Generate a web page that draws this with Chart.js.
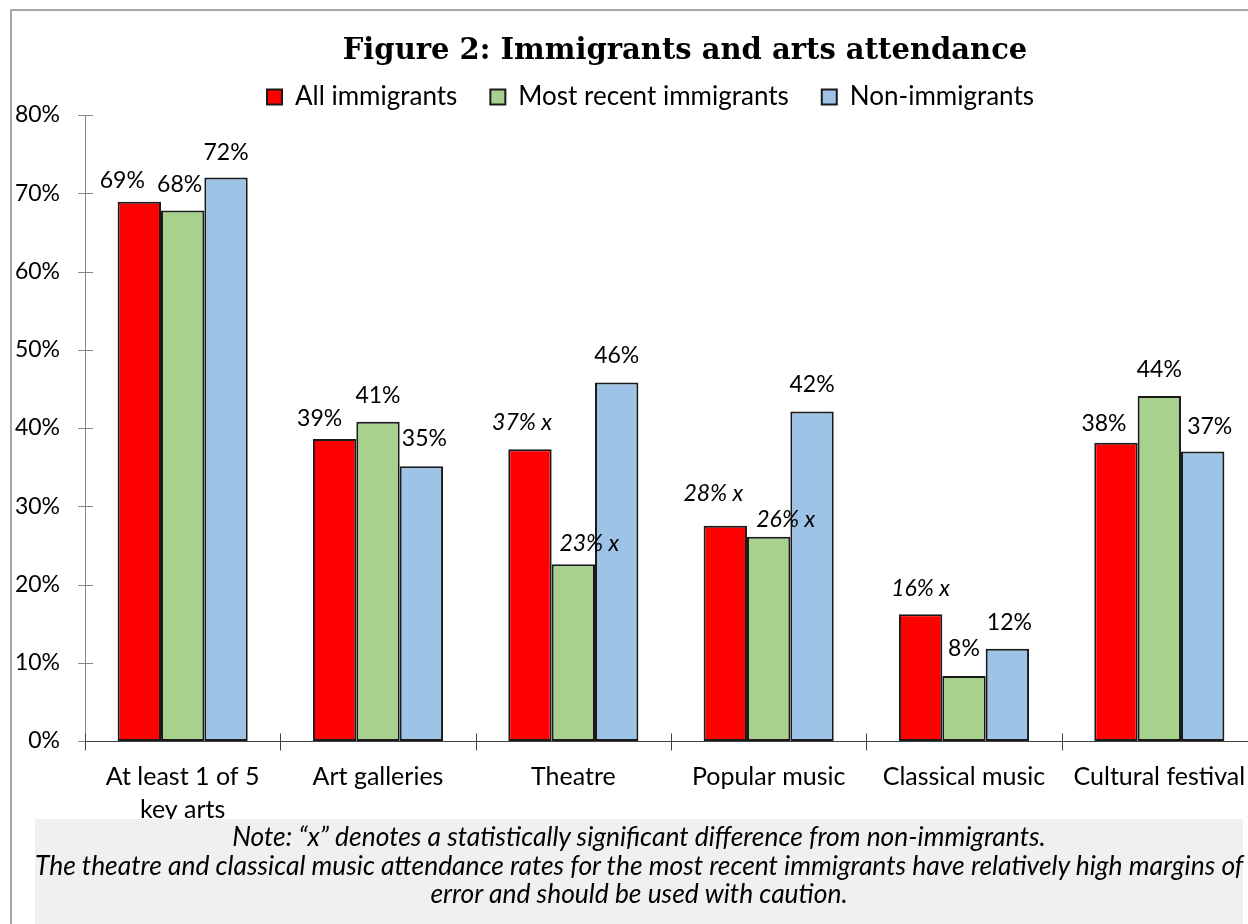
<!DOCTYPE html>
<html>
<head>
<meta charset="utf-8">
<script src="https://cdn.jsdelivr.net/npm/chart.js@4.4.1/dist/chart.umd.min.js"></script>
<style>
  body { margin: 0; overflow: hidden; background: #fff; width: 1248px; height: 924px; position: relative; }
  #frame { position: absolute; left: 10px; top: 9px; width: 1300px; height: 1000px;
           border-left: 2px solid #a6a6a6; border-top: 2px solid #a6a6a6; }
  #chart { position: absolute; left: 0; top: 0; }
  #title { position: absolute; left: 285px; top: 32px; width: 800px; text-align: center; white-space: nowrap;
           font: bold 29px "DejaVu Serif", serif; color: #000; }
  #note { position: absolute; left: 35px; top: 819px; width: 1208px; height: 110px; background: #f0f0f0;
          font: italic 26.4px Lato, sans-serif; color: #000; text-align: center; line-height: 28.5px;
          padding-top: 3px; white-space: nowrap; }
</style>
</head>
<body>
<div id="frame"></div>
<canvas id="chart" width="1301" height="924"></canvas>
<div id="title">Figure 2: Immigrants and arts attendance</div>
<div id="note">Note: “x” denotes a statistically significant difference from non-immigrants.<br>The theatre and classical music attendance rates for the most recent immigrants have relatively high margins of<br>error and should be used with caution.</div>
<script>
const categories = [
  ['At least 1 of 5', 'key arts'],
  'Art galleries',
  'Theatre',
  'Popular music',
  'Classical music',
  'Cultural festival',
];
const allImmigrants = [68.9, 38.6, 37.3, 27.5, 16.2, 38.1];
const recentImmigrants = [67.8, 40.8, 22.6, 26.1, 8.3, 44.1];
const nonImmigrants = [72.0, 35.1, 45.8, 42.1, 11.8, 37.0];
// "x" = significantly different from non-immigrants
const sigAll = [false, false, true, true, true, false];
const sigRecent = [false, false, true, true, false, false];
const sigNon = [false, false, false, false, false, false];
const yTicks = [0, 10, 20, 30, 40, 50, 60, 70, 80];

// label nudges (px) like the hand-placed labels in the original
const labelNudge = [
  [[-17, -21], [-15, -20], [-8, -27], [-12, -32], [0, -26], [-12, -19]],
  [[-3, -26], [0, -26], [16, -21], [17, -17], [0, -27], [0, -26]],
  [[0, -25], [3, -28], [0, -27], [0, -27], [2, -26], [7, -25]],
];
const sigFlags = [sigAll, sigRecent, sigNon];

const font = 'Lato, sans-serif';

/* 막대 위 값 표시 */
const valueLabels = {
  id: 'valueLabels',
  afterDatasetsDraw(chart) {
    const ctx = chart.ctx;
    ctx.save();
    ctx.fillStyle = '#000';
    ctx.textAlign = 'center';
    ctx.textBaseline = 'middle';
    chart.data.datasets.forEach((ds, di) => {
      chart.getDatasetMeta(di).data.forEach((bar, i) => {
        const sig = sigFlags[di][i];
        const txt = Math.round(ds.data[i]) + '%' + (sig ? ' x' : '');
        ctx.font = (sig ? 'italic ' : '') + '23px ' + font;
        const [dx, dy] = labelNudge[di][i];
        ctx.fillText(txt, bar.x + dx, bar.y + dy);
      });
    });
    ctx.restore();
  },
};

/* 축 선과 교차 눈금 */
const crossAxes = {
  id: 'crossAxes',
  beforeLayout(chart) {
    // legend box a bit shorter so the plot starts right under it
    const lg = chart.legend;
    if (lg && !lg._trimmed) {
      const fit = lg.fit.bind(lg);
      lg.fit = () => { fit(); lg.height -= 5; };
      lg._trimmed = true;
    }
  },
  beforeDatasetsDraw(chart) {
    const { ctx, chartArea, scales } = chart;
    const x = scales.x, y = scales.y;
    ctx.save();
    ctx.lineWidth = 1;
    ctx.strokeStyle = '#868686';
    ctx.beginPath();
    ctx.moveTo(chartArea.left + 0.5, y.getPixelForValue(yTicks[yTicks.length - 1]));
    ctx.lineTo(chartArea.left + 0.5, chartArea.bottom);
    y.ticks.forEach((t) => {
      const py = Math.round(y.getPixelForValue(t.value)) + 0.5;
      ctx.moveTo(chartArea.left - 7, py);
      ctx.lineTo(chartArea.left + 8, py);
    });
    ctx.stroke();
    ctx.strokeStyle = '#404040';
    ctx.beginPath();
    const by = Math.round(chartArea.bottom) + 0.5;
    ctx.moveTo(chartArea.left, by);
    ctx.lineTo(chart.width, by);
    for (let i = 0; i <= categories.length; i++) {
      const px = Math.round(x.getPixelForValue(i - 0.5)) + 0.5;
      ctx.moveTo(px, by - 8);
      ctx.lineTo(px, by + 9);
    }
    ctx.stroke();
    ctx.restore();
  },
};

new Chart(document.getElementById('chart'), {
  type: 'bar',
  data: {
    labels: categories,
    datasets: [
      { label: 'All immigrants', data: allImmigrants, backgroundColor: '#ff0000' },
      { label: 'Most recent immigrants', data: recentImmigrants, backgroundColor: '#a9d18e' },
      { label: 'Non-immigrants', data: nonImmigrants, backgroundColor: '#9dc3e6' },
    ].map((d) => ({ ...d, borderColor: '#1a1a1a', borderWidth: 2, borderSkipped: false,
      categoryPercentage: 0.666, barPercentage: 1 })),
  },
  options: {
    responsive: false,
    animation: false,
    layout: { padding: { left: 0, right: 0, top: 51, bottom: 0 } },
    plugins: {
      title: { display: false },
      tooltip: { enabled: false },
      legend: {
        position: 'top',
        labels: {
          font: { family: font, size: 26 },
          color: '#000',
          boxWidth: 15,
          boxHeight: 15,
          padding: 33,
        },
      },
    },
    scales: {
      x: {
        grid: { display: false, drawTicks: false },
        border: { display: false },
        ticks: { font: { family: font, size: 25, lineHeight: 1.3 }, color: '#000', padding: 20, maxRotation: 0, autoSkip: false },
        afterFit: (s) => { s.height = 183; },
      },
      y: {
        min: yTicks[0],
        max: yTicks[yTicks.length - 1],
        grid: { display: false, drawTicks: false },
        border: { display: false },
        ticks: { stepSize: yTicks[1] - yTicks[0], font: { family: font, size: 23 }, color: '#000', padding: 25,
          callback: (v) => v + '%' },
        afterFit: (s) => { s.width = 85; },
      },
      // empty strip on the right, past the visible edge, as in the cropped original
      yRight: {
        position: 'right',
        min: yTicks[0],
        max: yTicks[yTicks.length - 1],
        grid: { display: false, drawTicks: false },
        border: { display: false },
        ticks: { display: false },
        afterFit: (s) => { s.width = 44; },
      },
    },
  },
  plugins: [crossAxes, valueLabels],
});
</script>
</body>
</html>
